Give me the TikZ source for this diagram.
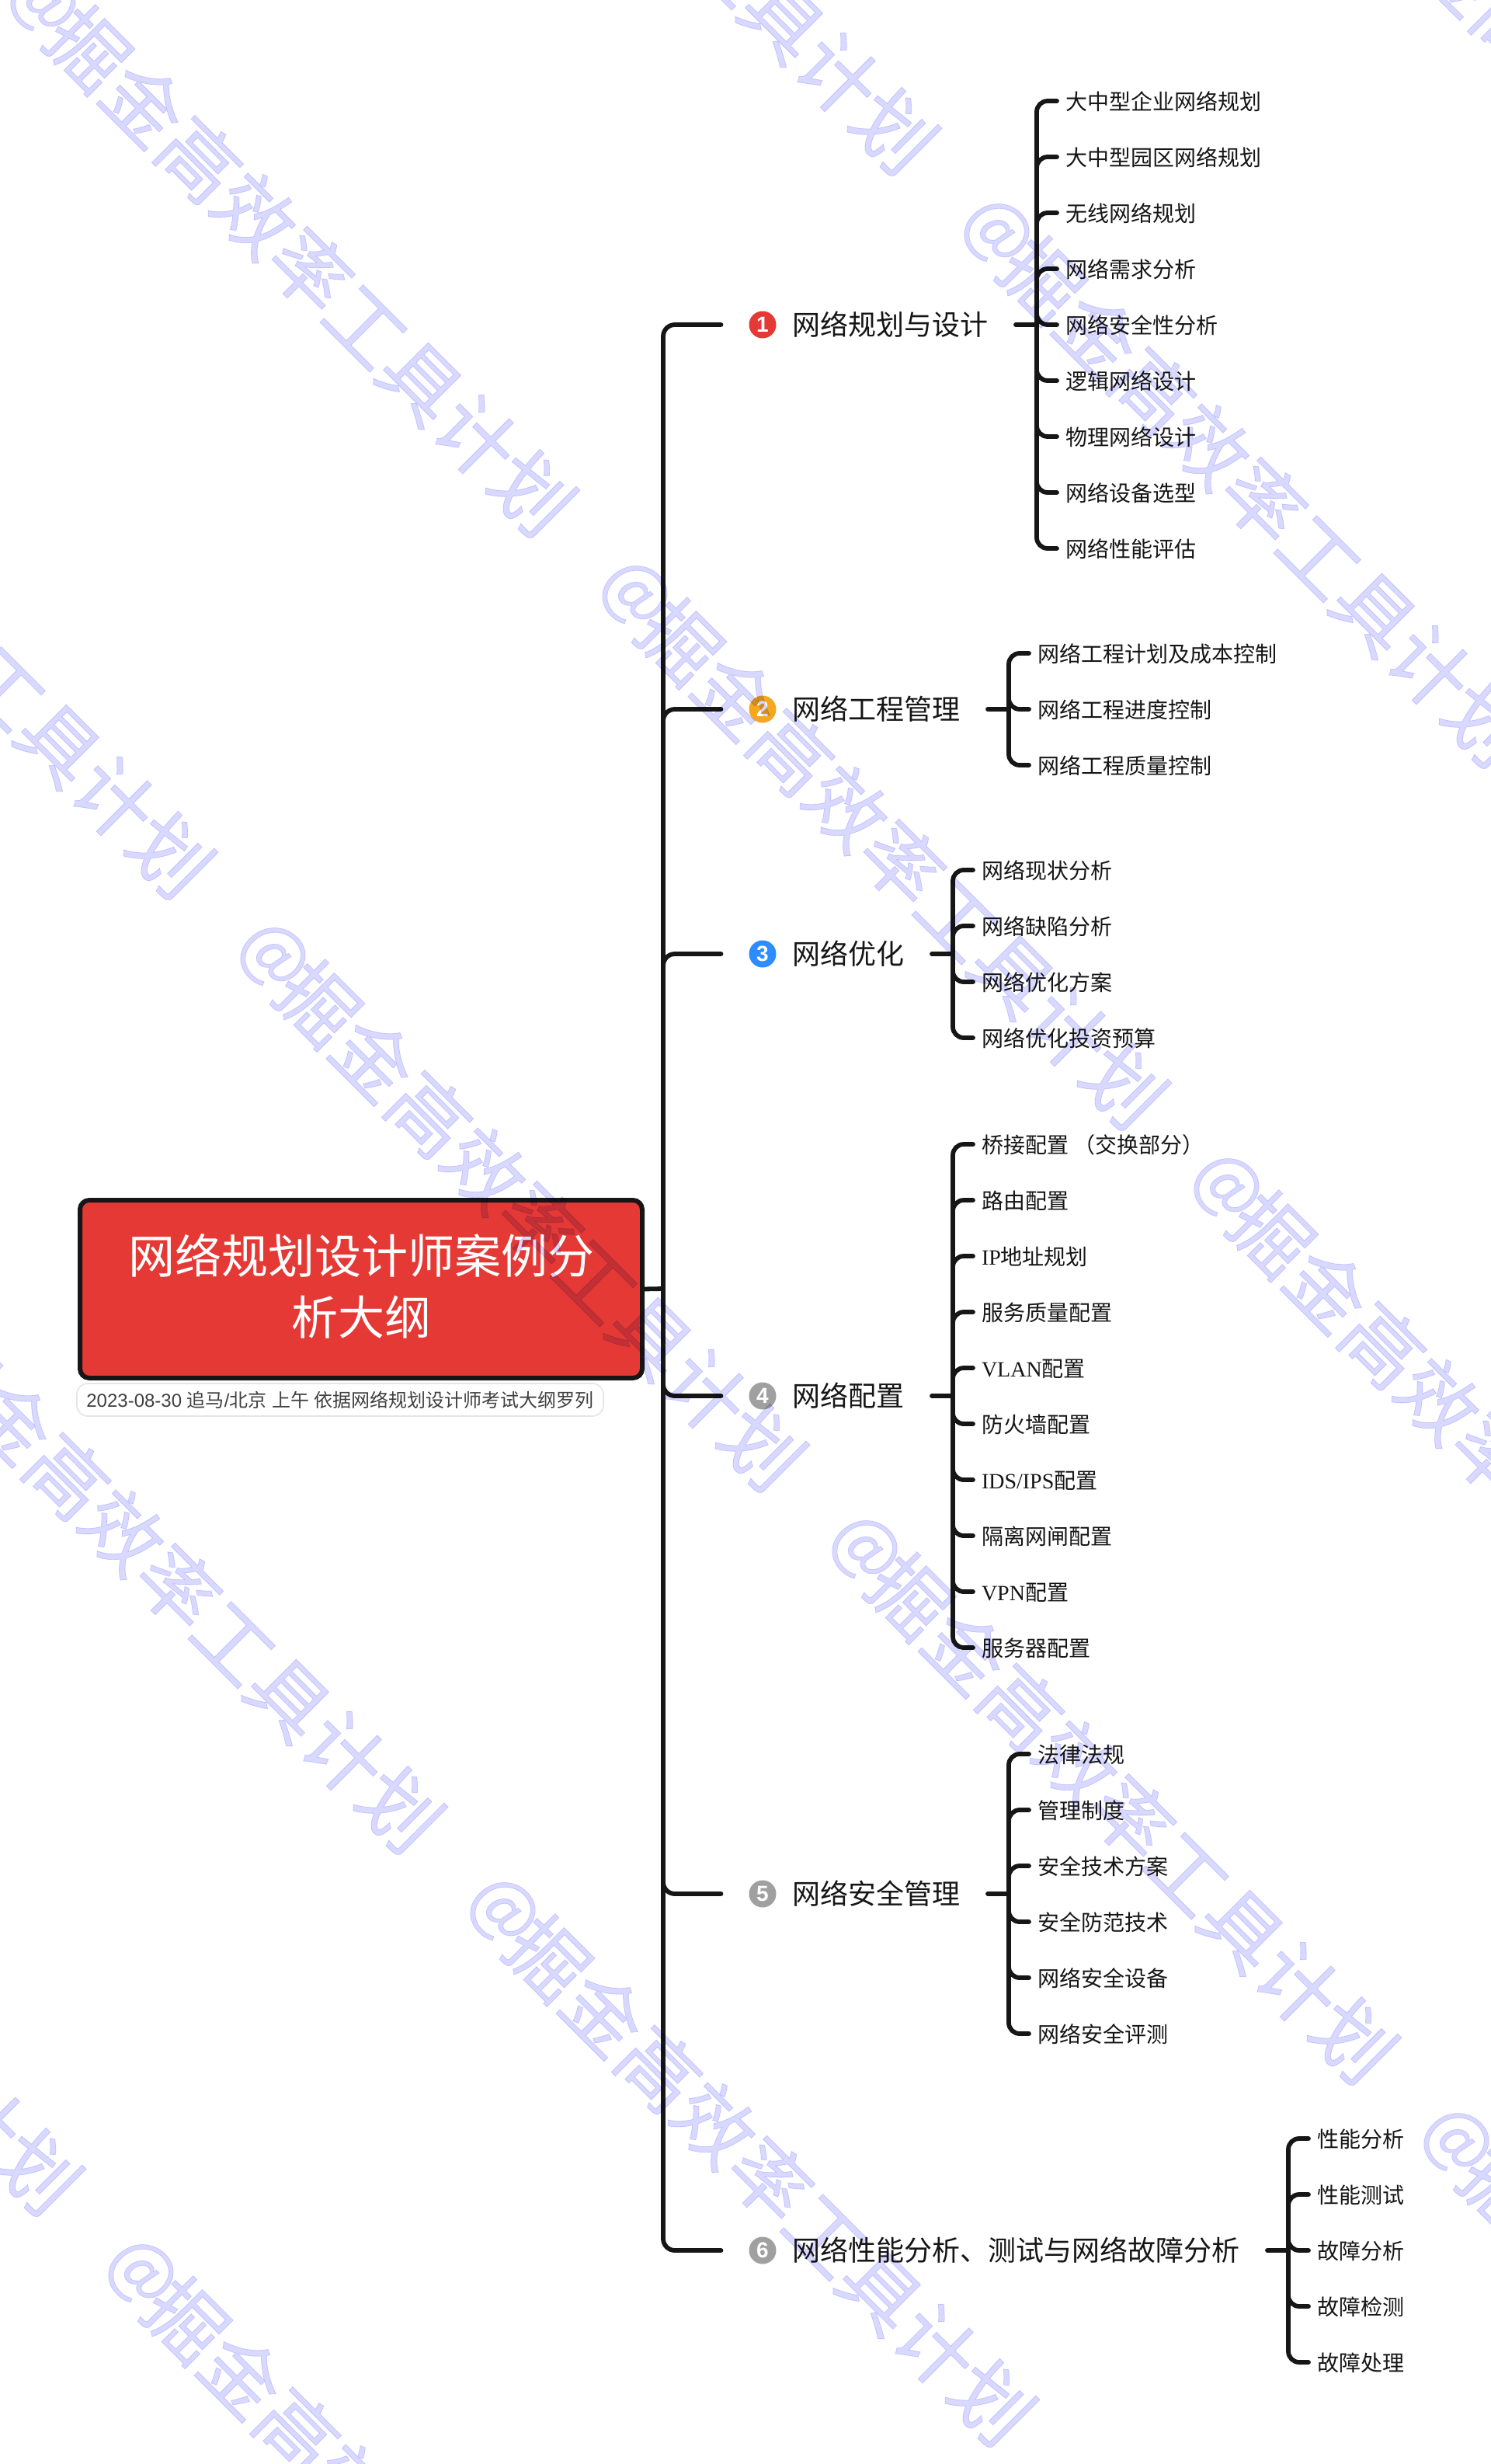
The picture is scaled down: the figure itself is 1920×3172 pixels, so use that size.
\documentclass[tikz,border=0pt]{standalone}
\usepackage{fontspec}
\setmainfont{Noto Sans CJK SC}
\newfontfamily\ser{Liberation Serif}
\newfontfamily\lsans{Liberation Sans}
\newfontfamily\wmfont[FakeBold=0.8]{Noto Sans CJK SC}
\usetikzlibrary{calc}
\definecolor{inkc}{HTML}{161616}
\definecolor{rootred}{HTML}{E53935}
\definecolor{wmc}{HTML}{D9D9FF}
\definecolor{cred}{HTML}{E53935}
\definecolor{corange}{HTML}{F5A81F}
\definecolor{cblue}{HTML}{2D8CFF}
\definecolor{cgrey}{HTML}{A0A0A0}
\tikzset{
  conn/.style={draw=inkc,line width=2.9pt,line cap=round,line join=round},
  rootbox/.style={draw=inkc,fill=rootred,line width=3pt,rounded corners=6pt,minimum width=362pt,minimum height=114.5pt,inner sep=0pt,outer sep=0pt},
  roottext/.style={inner sep=0pt,text=white,align=center,font=\fontsize{30}{39.5}\selectfont},
  subpill/.style={draw=black!10,fill=white,line width=0.8pt,rounded corners=7pt,minimum width=339pt,minimum height=21pt,inner sep=0pt,text=black!75,font=\fontsize{12}{14}\selectfont},
  icon/.style={circle,minimum size=17.5pt,inner sep=0pt,outer sep=0pt,text=white,font=\lsans\bfseries\fontsize{14}{14}\selectfont},
  brtext/.style={anchor=west,inner sep=0pt,outer sep=0pt,text height=15.8pt,text depth=2.2pt,text=inkc,font=\fontsize{18}{18}\selectfont},
  leaf/.style={anchor=west,inner sep=0pt,outer sep=0pt,text height=12.3pt,text depth=1.7pt,text=inkc,font=\fontsize{14}{14}\selectfont},
  wm/.style={rotate=-45,inner sep=0pt,text=wmc,font=\wmfont\fontsize{50.5}{50.5}\selectfont},
  wmat/.style={rotate=-45,inner sep=0pt,text=wmc,font=\wmfont\fontsize{45}{45}\selectfont},
}
\newcommand{\mkbranch}[5]{%
  \node[icon,fill=#3] (i#1) at (982,#2) {#4};
  \node[brtext] (b#1) at (1020,#2) {#5};
  \draw[conn,rounded corners=7.5pt] (tr) |- ([xshift=-18pt]i#1.west);
}
\newcommand{\mkleaves}[3]{%
  \coordinate (st#1) at ([xshift=18pt]b#1.east);
  \coordinate (sp#1) at ([xshift=31.5pt]b#1.east);
  \draw[conn] (st#1) -- (sp#1);
  \foreach \leaftext [count=\ki from 0] in {#3} {
    \node[leaf] (l#1-\ki) at ([xshift=50pt,yshift={((#2-1)/2-\ki)*36pt-0.3pt}]b#1.east) {\leaftext};
    \draw[conn,rounded corners=7pt] (sp#1) |- ([xshift=-5.5pt,yshift=0.3pt]l#1-\ki.west);
  }
}
\begin{document}
\begin{tikzpicture}[x=0.5pt,y=-0.5pt]
\useasboundingbox (0,0) rectangle (1920,3172);
\fill[white] (0,0) rectangle (1920,3172);
\coordinate (tr) at (854,1659);
\node[rootbox] (root) at (465,1659.5) {};
\node[roottext] (rootlabel) at (465,1656) {网络规划设计师案例分\\析大纲};
\node[subpill] (sub) at (438,1802) {{\lsans 2023-08-30}\hspace{3.3pt}追马{\lsans /}北京\hspace{3.3pt}上午\hspace{3.3pt}依据网络规划设计师考试大纲罗列};
\draw[conn] (root.east) -- (tr);
\mkbranch{1}{418}{cred}{1}{网络规划与设计}
\mkbranch{2}{913}{corange}{2}{网络工程管理}
\mkbranch{3}{1228}{cblue}{3}{网络优化}
\mkbranch{4}{1797}{cgrey}{4}{网络配置}
\mkbranch{5}{2438}{cgrey}{5}{网络安全管理}
\mkbranch{6}{2897}{cgrey}{6}{网络性能分析、测试与网络故障分析}
\mkleaves{1}{9}{大中型企业网络规划,大中型园区网络规划,无线网络规划,网络需求分析,网络安全性分析,逻辑网络设计,物理网络设计,网络设备选型,网络性能评估}
\mkleaves{2}{3}{网络工程计划及成本控制,网络工程进度控制,网络工程质量控制}
\mkleaves{3}{4}{网络现状分析,网络缺陷分析,网络优化方案,网络优化投资预算}
\mkleaves{4}{10}{桥接配置 （交换部分）,路由配置,{\ser IP}地址规划,服务质量配置,{\ser VLAN}配置,防火墙配置,{\ser IDS/IPS}配置,隔离网闸配置,{\ser VPN}配置,服务器配置}
\mkleaves{5}{6}{法律法规,管理制度,安全技术方案,安全防范技术,网络安全设备,网络安全评测}
\mkleaves{6}{5}{性能分析,性能测试,故障分析,故障检测,故障处理}
\begin{scope}[blend mode=multiply]
\clip (0,0) rectangle (1920,3172);
\foreach \m in {-3,...,6}{
  \foreach \n in {-3,...,4}{
    \node[wmat] (wa\m x\n) at ({55-466*\m+762*\n},{3+466*\m+763*\n}) {@};
    \node[wm] (wm\m x\n) at ({55+345-466*\m+762*\n},{3+345+466*\m+763*\n}) {掘金高效率工具计划};
  }
}
\end{scope}
\end{tikzpicture}
\end{document}
